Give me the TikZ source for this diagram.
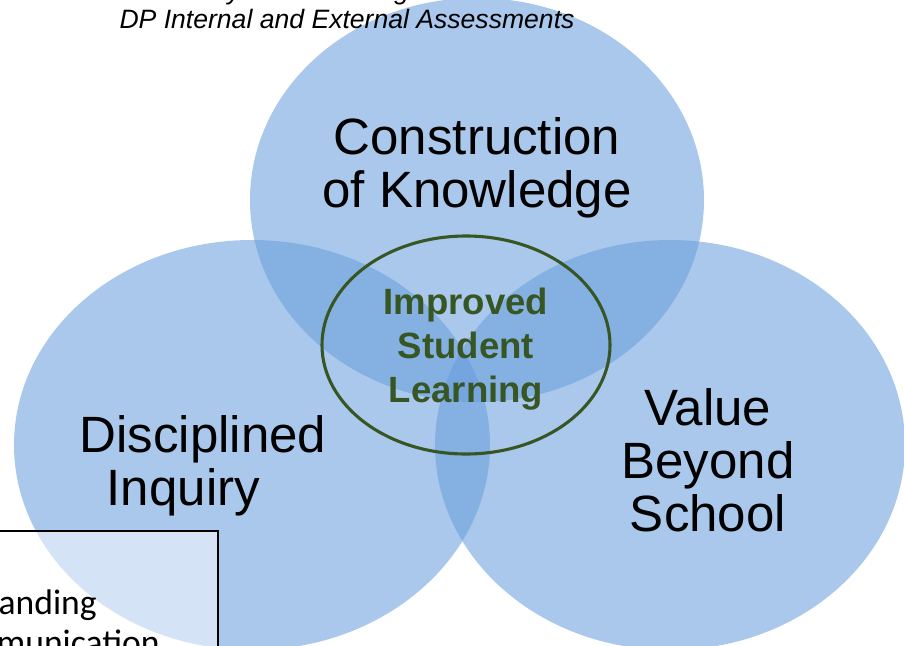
\documentclass[tikz,border=0pt]{standalone}
\usepackage{fontspec}
\setmainfont{Liberation Sans}
\newfontfamily\boxfont{Carlito}
\usepackage{tikz}
\usetikzlibrary{shapes.geometric,positioning}

\definecolor{circblue}{RGB}{105,158,220}
\definecolor{coregreen}{RGB}{55,86,35}

\begin{document}
\begin{tikzpicture}[x=0.025cm,y=-0.025cm,
	circ/.style={fill=circblue, fill opacity=0.565},
	biglabel/.style={align=center, font=\fontsize{36.3}{37.7}\selectfont},
	corelabel/.style={align=center, text=coregreen, font=\fontsize{26}{31.3}\selectfont\bfseries},
	headline/.style={anchor=base, font=\fontsize{18.9}{20}\selectfont\itshape},
	boxline/.style={anchor=base east, inner sep=0pt, font=\boxfont\fontsize{25.3}{29}\selectfont}]
	\useasboundingbox (0,0) rectangle (904,646);
	\clip (0,0) rectangle (904,646);
	\fill [white] (0,0) rectangle (904,646);

	% the three dimensions
	\fill [circ] (477,200) ellipse [x radius=227, y radius=202];
	\fill [circ] (252,445) ellipse [x radius=238, y radius=205];
	\fill [circ] (670,445) ellipse [x radius=235, y radius=205];

	% heading, cut at the top
	\node (head1) at (87,-1) [headline, anchor=base west, inner sep=0pt] {Measured by Rich Thinking};
	\node (head2) at (347,28) [headline] {DP Internal and External Assessments};

	\node (ck) at (477,168) [biglabel] {Construction\\of Knowledge};
	\node (di) at (203,466) [biglabel] {Disciplined\\Inquiry\hspace*{28pt}};
	\node (vs) at (708,460) [biglabel] {Value\\Beyond\\School};

	% centre: where all three meet
	\node (core) at (466,345) [ellipse, draw=coregreen, line width=2.2pt,
		minimum width=288*0.025cm, minimum height=218*0.025cm] {};
	\node at (core) [corelabel, yshift=-3pt] {Improved\\Student\\Learning};

	% box in the lower left corner
	\draw [line width=1.4pt, fill=white, fill opacity=0.5] (-10,531) rectangle (218,700);
	\node (bl1) at (97,614) [boxline] {In-Depth Understanding};
	\node (bl2) at (160,654) [boxline] {Elaborated Communication};
\end{tikzpicture}
\end{document}
